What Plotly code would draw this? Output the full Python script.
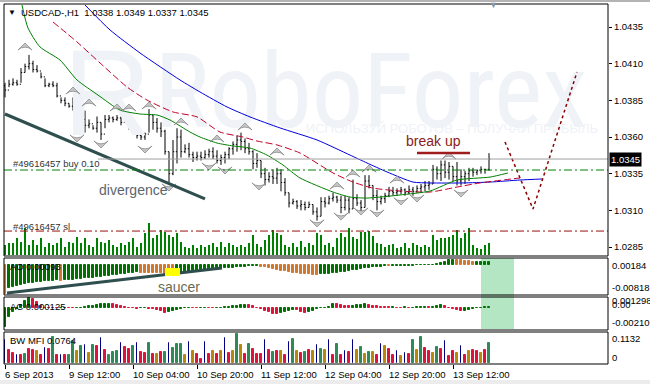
import plotly.graph_objects as go

W, H = 650, 384

# ---------------- data ----------------
BASE, PIP = 1.0300, 0.0001          # bar prices below are pips above BASE
high_pips = [97,99,100,99,107,110,116,112,109,104, 100,97,98,97,87,87,83,87,80,75,
             78,72,68,74,70,75,75,74,75,74, 75,75,65,65,63,63,79,75,73,70,
             65,50,58,66,65,55,56,50,50,50, 51,52,53,51,48,50,53,57,61,63,
             59,56,51,49,44,39,36,38,39,38, 32,22,18,17,17,16,16,14,12,19,
             19,20,22,20,20,20,19,31,21,17, 34,34,27,24,20,22,26,26,25,26,
             25,27,26,27,28,30,30,41,40,44, 44,43,40,43,38,37,39,39,38,40,
             38,49]
low_pips = [87,94,95,95,97,104,106,104,104,100, 94,94,94,87,83,81,80,78,63,66,
            63,66,65,63,58,66,70,70,71,68, 70,65,62,59,58,58,63,65,63,60,
            48,29,34,42,46,49,46,43,44,44, 45,46,45,42,41,42,45,48,50,51,
            49,48,38,39,32,27,29,28,28,23, 20,12,14,11,10,10,12,7,3,6,
            12,14,16,15,8,10,8,11,13,9, 12,25,17,10,14,15,19,20,20,21,
            20,21,20,22,22,23,24,28,31,30, 32,31,30,27,27,28,30,33,34,35,
            35,37]
open_pips = [95,92,96,97,96,104,108,110,106,105, 101,95,96,95,88,85,83,81,79,66,
             72,68,69,66,70,62,72,73,72,73, 70,73,66,63,61,60,62,75,70,66,
             64,50,35,50,60,50,52,48,46,47, 46,48,50,47,44,46,48,52,55,58,
             57,52,50,42,44,35,31,33,32,35, 29,22,15,16,13,14,12,14,9,6,
             16,15,18,19,17,12,17,11,18,15, 12,30,27,20,16,18,20,23,22,23,
             24,22,24,23,25,26,27,28,38,35, 41,36,40,33,30,33,35,37,36,37,
             38,38]
close_pips = [92,96,97,96,104,108,110,106,105,101, 95,96,95,88,85,83,81,79,66,72,
              68,69,66,70,62,72,73,72,73,70, 73,66,63,61,60,62,75,70,66,64,
              50,35,50,60,50,52,48,46,47,46, 48,50,47,44,46,48,52,55,58,57,
              52,50,42,44,35,31,33,32,35,29, 22,15,16,13,14,12,14,9,6,16,
              15,18,19,17,12,17,11,18,15,12, 30,27,20,16,18,20,23,22,23,24,
              22,24,23,25,26,27,28,38,35,41, 36,40,33,30,33,35,37,36,37,38,
              38,45]
volume = [10,12,12,17,13,27,10,15,10,17, 8,12,10,12,17,8,13,12,18,12,
          17,10,8,17,13,12,15,10,8,12, 10,13,17,8,12,22,32,17,20,25,
          23,20,18,22,13,8,7,10,7,
          10,8,10,12,8,13,8,12,10,8, 10,8,12,20,11,8,15,20,25,22,
          20,10,8,12,8,14,8,12,10,22, 20,10,12,8,17,22,18,27,18,16,
          23,23,24,19,12,11,8,10,11,7, 8,12,7,12,10,8,
          10,8,20,15,17,17,18,20,25,17,22,27,10,7,6,10,12]
ao = [-0.00818,-0.00658,-0.00611,-0.00583,-0.00564,-0.00545,-0.00517,-0.00498,-0.00489,-0.00470,
      -0.00451,-0.00450,-0.00442,-0.00433,-0.00442,-0.00433,-0.00423,-0.00414,-0.00404,-0.00395,
      -0.00376,-0.00367,-0.00357,-0.00339,-0.00329,-0.00310,-0.00301,-0.00282,-0.00273,-0.00254,
      -0.00244,-0.00235,-0.00216,-0.00207,-0.00212,-0.00216,-0.00221,-0.00226,-0.00230,-0.00235,
      -0.00240,-0.00244,-0.00249,-0.00235,-0.00216,-0.00197,-0.00188,-0.00169,-0.00160,-0.00150,
      -0.00141,-0.00132,-0.00122,-0.00113,-0.00103,-0.00094,-0.00085,-0.00075,-0.00066,-0.00056,
      -0.00047,-0.00038,-0.00028,-0.00019,-0.00047,-0.00066,-0.00094,-0.00113,-0.00141,-0.00160,
      -0.00179,-0.00197,-0.00216,-0.00235,-0.00244,-0.00254,-0.00263,-0.00273,-0.00282,-0.00263,
      -0.00254,-0.00244,-0.00235,-0.00226,-0.00207,-0.00188,-0.00169,-0.00150,-0.00132,-0.00113,
      -0.00094,-0.00075,-0.00066,-0.00056,-0.00047,-0.00038,-0.00042,-0.00038,-0.00033,-0.00028,
      -0.00024,-0.00019,-0.00014,-0.00009,-0.00005,0.00002,0.00005,0.00009,0.00019,0.00056,
      0.00094,0.00132,0.00150,0.00141,0.00132,0.00122,0.00113,0.00080,0.00085,0.00088,
      0.00090,0.00093]
ac = [-0.00195,-0.00091,-0.00039,-0.00010,0.00035,0.00070,0.00105,0.00090,0.00060,0.00020,
      0.00005,0.00003,-0.00002,-0.00003,0.00002,0.00003,-0.00002,-0.00004,-0.00002,0.00004,
      0.00010,0.00018,0.00025,0.00032,0.00038,0.00042,0.00045,0.00040,0.00030,0.00018,
      0.00010,0.00005,-0.00003,-0.00008,-0.00004,-0.00002,-0.00006,-0.00010,-0.00020,-0.00035,
      -0.00050,-0.00045,-0.00035,-0.00025,-0.00015,-0.00005,0.00002,0.00001,-0.00001,0.00002,
      0.00003,0.00001,-0.00002,-0.00001,0.00002,0.00006,0.00010,0.00018,0.00025,0.00030,
      0.00035,0.00030,0.00020,0.00005,-0.00015,-0.00030,-0.00045,-0.00060,-0.00065,-0.00055,
      -0.00045,-0.00030,-0.00020,-0.00025,-0.00040,-0.00050,-0.00045,-0.00030,-0.00015,-0.00005,
      0.00005,0.00015,0.00040,0.00038,0.00030,0.00022,0.00018,0.00020,0.00028,0.00035,
      0.00038,0.00030,0.00022,0.00018,0.00012,0.00008,0.00006,0.00008,0.00005,0.00004,
      0.00006,0.00003,0.00005,0.00008,0.00012,0.00015,0.00012,0.00015,0.00022,0.00028,
      0.00020,0.00005,-0.00010,-0.00025,-0.00035,-0.00030,-0.00020,-0.00010,-0.00002,0.00004,
      0.00008,0.000125]
mfi = [0.089,0.050,0.039,0.032,0.030,0.035,0.055,0.050,0.045,0.032,
       0.058,0.055,0.103,0.032,0.032,0.032,0.032,0.086,0.045,0.068,
       0.071,0.041,0.071,0.068,0.097,0.052,0.032,0.042,0.045,0.077,
       0.064,0.055,0.068,0.077,0.042,0.039,0.077,0.036,0.036,0.042,
       0.042,0.077,0.060,0.073,0.073,0.032,0.081,0.048,0.035,0.017,
       0.081,0.037,0.045,0.037,0.045,0.099,0.040,0.048,0.113,0.070,
       0.035,0.073,0.055,0.035,0.035,0.089,0.050,0.042,0.045,0.045,
       0.032,0.081,0.092,0.045,0.040,0.042,0.050,0.048,0.070,0.054,
       0.050,0.089,0.032,0.073,0.032,0.045,0.042,0.089,0.050,0.062,
       0.036,0.042,0.042,0.030,0.073,0.067,0.054,0.032,0.045,0.026,
       0.041,0.036,0.088,0.050,0.103,0.060,0.048,0.040,0.064,0.055,
       0.086,0.029,0.045,0.039,0.068,0.032,0.045,0.050,0.045,0.039,
       0.050,0.0764]
# g = MFI up/volume up, r = MFI down/volume up, y = fade, b = fake
mfi_kind = list("brrbrgrryr" "brgrbrggyg" "bygrbrgggb" "rrgbrrgryr"
                "gbgggybyrr" "bryrybrygy" "rgrrrbrgry" "rbgyrgrybg"
                "ybrgrbrbyg" "ygyrbyrrby" "brgygrrygr" "brrybryrry" "rg")

time_tick_idx = [0, 16, 32, 48, 64, 80, 96, 112]
time_tick_labels = ["6 Sep 2013", "9 Sep 12:00", "10 Sep 04:00", "10 Sep 20:00",
                    "11 Sep 12:00", "12 Sep 04:00", "12 Sep 20:00", "13 Sep 12:00"]
price_ticks = [1.0435, 1.0410, 1.0385, 1.0360, 1.0335, 1.0310, 1.0285]

up_frac_idx = [5, 17, 21, 28, 31, 36, 44, 53, 60, 68, 83, 87, 91, 98, 111]
up_frac_price = [1.04241, 1.03941, 1.03859, 1.03825, 1.03825, 1.03839, 1.03730, 1.03614,
                 1.03696, 1.03525, 1.03293, 1.03375, 1.03409, 1.03334, 1.03498]
dn_frac_idx = [18, 24, 35, 41, 51, 55, 63.5, 78, 84, 89, 93, 99, 103, 114]
dn_frac_price = [1.03566, 1.03525, 1.03491, 1.03232, 1.03375, 1.03348, 1.03239, 1.02987,
                 1.03034, 1.03068, 1.03055, 1.03137, 1.03157, 1.03191]

jaw_idx = [20, 26.25, 33.75, 43.75, 48.75, 55.5, 61.25, 68.75, 78, 86.25, 90.5, 95.5,
           102, 106.25, 114.5, 121.25, 128.75, 134.25]
jaw_price = [1.04500, 1.04330, 1.04173, 1.03989, 1.03907, 1.03805, 1.03737, 1.03662, 1.03580,
             1.03477, 1.03423, 1.03362, 1.03293, 1.03287, 1.03287, 1.03293, 1.03307, 1.03314]
teeth_idx = [12, 18, 23.75, 30.5, 35.5, 42, 48, 53.75, 59.5, 63, 68, 73.75, 82, 87, 92,
             98.75, 106.25, 113, 118.75, 128.75]
teeth_price = [1.04384, 1.04248, 1.04105, 1.03941, 1.03852, 1.03771, 1.03737, 1.03634, 1.03600,
               1.03573, 1.03546, 1.03491, 1.03355, 1.03293, 1.03252, 1.03232, 1.03225, 1.03259,
               1.03287, 1.03321]
lips_idx = [4.25, 5.75, 8.75, 13.75, 18, 23.25, 28.75, 33.75, 38, 41.25, 46.25, 48.75, 53, 57,
            61.25, 65.5, 69.5, 73.75, 82, 86.25, 90.5, 98.75, 106.25, 113, 121.25, 125.75]
lips_price = [1.04500, 1.04343, 1.04214, 1.04125, 1.03989, 1.03886, 1.03784, 1.03757, 1.03750,
              1.03716, 1.03634, 1.03600, 1.03559, 1.03539, 1.03525, 1.03477, 1.03409, 1.03321,
              1.03225, 1.03191, 1.03184, 1.03205, 1.03232, 1.03307, 1.03327, 1.03355]

buy_level, sl_level, bid_level = 1.03375, 1.02959, 1.0345
divergence_idx, divergence_price = [0, 50], [1.03757, 1.03178]
breakup_idx, breakup_price = [103, 116.25], [1.03491, 1.03491]
forecast_idx, forecast_price = [125, 132, 143], [1.03566, 1.03109, 1.04043]
saucer_idx, saucer_ao = [0.5, 54.25], [-0.0079, -0.00085]

assert len(high_pips) == len(low_pips) == len(open_pips) == len(close_pips) == 122
assert len(volume) == len(ao) == len(ac) == len(mfi) == len(mfi_kind) == 122

# ---------------- figure ----------------
idx = list(range(len(close_pips)))
to_price = lambda v: [BASE + p * PIP for p in v]


def PX(x):
    return x / W


def PY(y):
    return 1 - y / H


X_RANGE = [-0.25, 150.75]
XDOM = [PX(4), PX(608)]
fig = go.Figure()

FONT = "Liberation Sans, Arial, sans-serif"
WM = "#eff2f7"

# watermark (behind everything)
fig.add_trace(go.Scatter(x=[25.5], y=[1.03825], mode="text", text=["R"],
                         textfont=dict(size=122, color=WM, family="Liberation Sans, sans-serif"),
                         xaxis="x", yaxis="y", hoverinfo="skip", showlegend=False))
fig.add_trace(go.Scatter(x=[91.5], y=[1.03845], mode="text", text=["RoboForex"],
                         textfont=dict(size=103, color=WM,
                                       family="Liberation Sans Narrow, Roboto Condensed, DejaVu Sans Condensed, Liberation Sans"),
                         xaxis="x", yaxis="y", hoverinfo="skip", showlegend=False))
fig.add_trace(go.Scatter(x=[111.75], y=[1.03648], mode="text",
                         text=["ИСПОЛЬЗУЙ РОБОТОВ – ПОЛУЧАЙ ПРИБЫЛЬ"],
                         textfont=dict(size=13, color=WM, family="Liberation Sans, sans-serif"),
                         xaxis="x", yaxis="y", hoverinfo="skip", showlegend=False))

# alligator
for xs, ys, col, dash in [(jaw_idx, jaw_price, "#0000e0", "solid"),
                          (teeth_idx, teeth_price, "#c00028", "7px,3px"),
                          (lips_idx, lips_price, "#008000", "solid")]:
    fig.add_trace(go.Scatter(x=xs, y=ys, mode="lines", line=dict(color=col, width=1, dash=dash,
                                                                 shape="spline", smoothing=0.6),
                             xaxis="x", yaxis="y", hoverinfo="skip", showlegend=False))

# price bars
fig.add_trace(go.Ohlc(x=idx, open=to_price(open_pips), high=to_price(high_pips),
                      low=to_price(low_pips), close=to_price(close_pips), tickwidth=0.3,
                      increasing=dict(line=dict(color="black", width=1)),
                      decreasing=dict(line=dict(color="black", width=1)),
                      xaxis="x", yaxis="y", hoverinfo="skip", showlegend=False))

# fractals
fig.add_trace(go.Scatter(x=up_frac_idx, y=up_frac_price, mode="markers",
                         marker=dict(symbol="arrow-wide", size=10, color="#c6c6c6",
                                     line=dict(color="#8c8c8c", width=0.8)),
                         xaxis="x", yaxis="y", hoverinfo="skip", showlegend=False))
fig.add_trace(go.Scatter(x=dn_frac_idx, y=dn_frac_price, mode="markers",
                         marker=dict(symbol="arrow-wide", angle=180, size=10, color="#c6c6c6",
                                     line=dict(color="#8c8c8c", width=0.8)),
                         xaxis="x", yaxis="y", hoverinfo="skip", showlegend=False))

# drawn objects
fig.add_trace(go.Scatter(x=divergence_idx, y=divergence_price, mode="lines",
                         line=dict(color="#2f4f4f", width=3), xaxis="x", yaxis="y",
                         hoverinfo="skip", showlegend=False))
fig.add_trace(go.Scatter(x=breakup_idx, y=breakup_price, mode="lines",
                         line=dict(color="#a01c1c", width=2.5), xaxis="x", yaxis="y",
                         hoverinfo="skip", showlegend=False))
fig.add_trace(go.Scatter(x=forecast_idx, y=forecast_price, mode="lines",
                         line=dict(color="#8b0000", width=1.5, dash="dot"), xaxis="x", yaxis="y",
                         hoverinfo="skip", showlegend=False))

# volumes (overlay axis on main pane)
fig.add_trace(go.Bar(x=idx, y=volume, width=0.25, marker=dict(color="#008000", line=dict(width=0)),
                     xaxis="x", yaxis="y2", hoverinfo="skip", showlegend=False))

# AO
ao_col = ["#007000" if i > 0 and ao[i] > ao[i - 1] else "#d2782d" for i in idx]
fig.add_trace(go.Bar(x=idx, y=ao, width=0.5, marker=dict(color=ao_col, line=dict(color=ao_col, width=1)),
                     xaxis="x2", yaxis="y3", hoverinfo="skip", showlegend=False))
fig.add_trace(go.Scatter(x=saucer_idx, y=saucer_ao, mode="lines", line=dict(color="#2f4f4f", width=3),
                         xaxis="x2", yaxis="y3", hoverinfo="skip", showlegend=False))

# AC
ac_col = ["#007000" if i == 0 or ac[i] > ac[i - 1] else "#dc143c" for i in idx]
fig.add_trace(go.Bar(x=idx, y=ac, width=0.5, marker=dict(color=ac_col, line=dict(color=ac_col, width=1)),
                     xaxis="x3", yaxis="y4", hoverinfo="skip", showlegend=False))

# BW MFI
kind_col = {"g": "#2e8b57", "r": "#dc143c", "y": "#b8860b", "b": "#000080"}
mcol = [kind_col[k] for k in mfi_kind]
mwid = [0.02 if k == "b" else 0.5 for k in mfi_kind]
fig.add_trace(go.Bar(x=idx, y=mfi, width=mwid, marker=dict(color=mcol, line=dict(color=mcol, width=1)),
                     xaxis="x4", yaxis="y5", hoverinfo="skip", showlegend=False))

# ---------------- layout ----------------
ax_common = dict(range=X_RANGE, domain=XDOM, showgrid=False, zeroline=False,
                 showticklabels=False, showline=False, fixedrange=True)
shapes = []
annotations = []

# light green highlight box spanning AO / AC
shapes.append(dict(type="rect", xref="paper", yref="paper", x0=PX(481), x1=PX(514),
                   y0=PY(329), y1=PY(258), fillcolor="#b4e6c3", line=dict(width=0), layer="below"))
# yellow saucer mark
shapes.append(dict(type="rect", xref="x2", yref="y3", x0=40, x1=43.75, y0=-0.0031, y1=-0.00085,
                   fillcolor="#ffff00", line=dict(width=0), layer="above"))
# horizontal order lines
shapes.append(dict(type="line", xref="x domain", yref="y", x0=0, x1=1, y0=buy_level, y1=buy_level,
                   line=dict(color="#008000", width=1, dash="8px,3px,2px,3px")))
shapes.append(dict(type="line", xref="x domain", yref="y", x0=0, x1=1, y0=sl_level, y1=sl_level,
                   line=dict(color="#9b1010", width=1, dash="8px,3px,2px,3px")))
shapes.append(dict(type="line", xref="x domain", yref="y", x0=0.1556, x1=1, y0=bid_level, y1=bid_level,
                   line=dict(color="#a0a0a0", width=1)))
# pane frames
for y0, y1 in [(4, 256), (258, 295), (297, 330), (332, 364)]:
    shapes.append(dict(type="rect", xref="paper", yref="paper", x0=PX(4), x1=PX(608),
                       y0=PY(y1), y1=PY(y0), line=dict(color="black", width=1), layer="above"))
# window chrome bands
shapes.append(dict(type="rect", xref="paper", yref="paper", x0=0, x1=1, y0=PY(2), y1=1,
                   fillcolor="#b4b4b4", line=dict(width=0)))
shapes.append(dict(type="rect", xref="paper", yref="paper", x0=0, x1=1, y0=0, y1=PY(380),
                   fillcolor="#ececec", line=dict(width=0)))


def txt(x, y, s, size=9.5, color="black", anchor="left", **kw):
    annotations.append(dict(xref="paper", yref="paper", x=PX(x), y=PY(y), text=s, showarrow=False,
                            xanchor=anchor, yanchor="middle", font=dict(size=size, color=color, family=FONT),
                            **kw))


txt(6, 12, "▼", size=8)
txt(19, 13, "USDCAD-,H1  1.0338 1.0349 1.0337 1.0345")
txt(487, 5, "▼", size=9, color="#8896a8")
txt(11, 164, "#49616457 buy 0.10", size=9.5, color="#333333")
txt(11, 226, "#49616457 sl", size=9.5, color="#333333")
txt(97, 190, "divergence", size=14, color="#5c6670")
txt(156, 287, "saucer", size=14, color="#6b6b55")
txt(404, 141, "break up", size=14, color="#8b1a1a")
txt(8, 266, "AO 0.00093", size=9.5)
txt(8, 306, "AC 0.000125", size=9.5)
txt(8, 340, "BW MFI 0.0764", size=9.5)
# right-hand pane scales
txt(610, 265, "0.00184", size=9.5)
txt(610, 287, "-0.00818", size=9.5)
txt(610, 300, "0.001298", size=9.5)
txt(610, 304, "0.00", size=9.5)
txt(610, 322, "-0.00210", size=9.5)
txt(610, 338, "0.1132", size=9.5)
txt(610, 357, "0", size=9.5)
txt(609, 159, "1.0345", size=9.5, color="white", bgcolor="black", borderpad=1)
# time axis labels, left-aligned at their ticks
for i, lab in zip(time_tick_idx, time_tick_labels):
    annotations.append(dict(xref="x4", yref="paper", x=i, y=PY(374), text=lab, showarrow=False,
                            xanchor="left", yanchor="middle", xshift=-2,
                            font=dict(size=9.5, color="black", family=FONT)))

fig.update_layout(
    width=W, height=H, margin=dict(l=0, r=0, t=0, b=0),
    paper_bgcolor="white", plot_bgcolor="rgba(0,0,0,0)", showlegend=False,
    xaxis=dict(**ax_common, anchor="y", ticks="", rangeslider=dict(visible=False)),
    xaxis2=dict(**ax_common, anchor="y3", ticks="", matches="x"),
    xaxis3=dict(**ax_common, anchor="y4", ticks="", matches="x"),
    xaxis4=dict(**ax_common, anchor="y5", matches="x",
                ticks="outside", ticklen=4, tickcolor="black", tickvals=time_tick_idx),
    yaxis=dict(domain=[PY(256), PY(4)], range=[1.027890, 1.045068], side="right", anchor="x",
               showgrid=False, zeroline=False, ticks="outside", ticklen=3, tickcolor="black",
               tickvals=price_ticks, ticktext=[f"{p:.4f}" for p in price_ticks],
               tickfont=dict(size=9.5, color="black", family=FONT), fixedrange=True),
    yaxis2=dict(overlaying="y", range=[-1, 251], visible=False, fixedrange=True),
    yaxis3=dict(domain=[PY(295), PY(258)], range=[-0.008463, 0.001975], anchor="x2",
                showgrid=False, zeroline=False, showticklabels=False, fixedrange=True),
    yaxis4=dict(domain=[PY(330), PY(297)], range=[-0.00231, 0.001155], anchor="x3",
                showgrid=False, zeroline=False, showticklabels=False, fixedrange=True),
    yaxis5=dict(domain=[PY(364), PY(332)], range=[-0.0039, 0.121], anchor="x4",
                showgrid=False, zeroline=False, showticklabels=False, fixedrange=True),
    shapes=shapes, annotations=annotations, bargap=0,
)

fig.write_html("out.html")
